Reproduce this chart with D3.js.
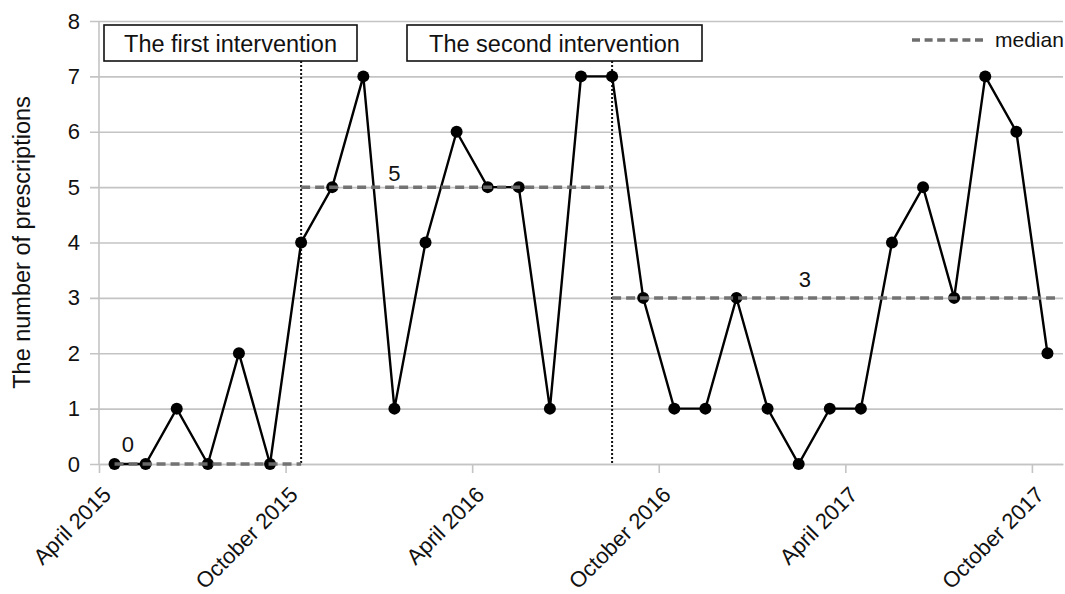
<!DOCTYPE html>
<html>
<head>
<meta charset="utf-8">
<script src="https://cdn.jsdelivr.net/npm/d3@7"></script>
<style>
  html, body { margin: 0; padding: 0; background: #fff; }
  svg { display: block; font-family: "Liberation Sans", Arial, sans-serif; }
</style>
</head>
<body>
<svg id="chart" width="1065" height="594"></svg>
<script>
// ---- data ----
const months = [
  "April 2015","May 2015","June 2015","July 2015","August 2015","September 2015",
  "October 2015","November 2015","December 2015","January 2016","February 2016","March 2016",
  "April 2016","May 2016","June 2016","July 2016","August 2016","September 2016",
  "October 2016","November 2016","December 2016","January 2017","February 2017","March 2017",
  "April 2017","May 2017","June 2017","July 2017","August 2017","September 2017",
  "October 2017"
];
const prescriptions = [0,0,1,0,2,0,4,5,7,1,4,6,5,5,1,7,7,3,1,1,3,1,0,1,1,4,5,3,7,6,2];
const medianValues = [0, 5, 3];
const medianStart = [0, 6, 16];   // month index where each phase median starts
const medianEnd   = [6, 16, 30];  // month index where each phase median ends
const interventionIndex = [6, 16];
const interventionLabels = ["The first intervention", "The second intervention"];
const yTicks = [0,1,2,3,4,5,6,7,8];
const xTickIndex = [0, 6, 12, 18, 24, 30];
const yTitle = "The number of prescriptions";
const legendLabel = "median";

// ---- layout ----
const svg = d3.select("#chart");
const pLeft = 99, pRight = 1063, pTop = 21, pBottom = 464;
const x = d3.scaleLinear().domain([0, months.length]).range([pLeft, pRight]);
const y = d3.scaleLinear().domain([0, 8]).range([pBottom, pTop]);
const cx = i => x(i + 0.5);
const gridColor = "#c4c4c4";
const medColor = "#6e6e6e";
const FONT = "Liberation Sans, Arial, sans-serif";

// gridlines + y labels
const gy = svg.append("g").attr("transform", `translate(90,0)`)
  .call(d3.axisLeft(y).tickValues(yTicks).tickSize(-(pRight - 90)).tickPadding(10).tickFormat(d3.format("d")));
gy.select(".domain").remove();
gy.selectAll(".tick line").attr("stroke", gridColor).attr("stroke-width", 1.6);
gy.selectAll(".tick text").attr("font-size", 22).attr("fill", "#111").attr("font-family", FONT);

// y axis line
svg.append("line").attr("x1", pLeft).attr("x2", pLeft).attr("y1", pTop).attr("y2", pBottom)
  .attr("stroke", gridColor).attr("stroke-width", 1.6);

// x axis
const gx = svg.append("g").attr("transform", `translate(0,${pBottom})`)
  .call(d3.axisBottom(x).tickValues(xTickIndex).tickSize(9).tickSizeOuter(0).tickFormat(() => ""));
gx.select(".domain").attr("stroke", gridColor).attr("stroke-width", 1.6);
gx.selectAll(".tick line").attr("stroke", gridColor).attr("stroke-width", 1.6);
gx.selectAll(".tick").append("text")
  .attr("fill", "#111")
  .attr("font-size", 22)
  .attr("font-family", FONT)
  .attr("text-anchor", "end")
  .attr("transform", "translate(13,32) rotate(-45)")
  .text(d => months[d]);

// y title
svg.append("text")
  .attr("transform", `translate(30,${(pTop + pBottom) / 2}) rotate(-90)`)
  .attr("text-anchor", "middle")
  .attr("font-size", 23.5)
  .attr("fill", "#111")
  .text(yTitle);

// intervention boxes
const boxes = [[104, 357], [407, 702]];
interventionLabels.forEach((lab, k) => {
  svg.append("rect").attr("x", boxes[k][0]).attr("y", 25)
    .attr("width", boxes[k][1] - boxes[k][0]).attr("height", 36)
    .attr("fill", "#fff").attr("stroke", "#111").attr("stroke-width", 1.6);
  svg.append("text").attr("x", (boxes[k][0] + boxes[k][1]) / 2).attr("y", 51.5)
    .attr("text-anchor", "middle").attr("font-size", 23.5).attr("fill", "#111").text(lab);
});

// intervention dotted lines
interventionIndex.forEach(i => {
  svg.append("line").attr("x1", cx(i)).attr("x2", cx(i)).attr("y1", 61).attr("y2", pBottom)
    .attr("stroke", "#111").attr("stroke-width", 2).attr("stroke-dasharray", "2,2");
});

// data line
svg.append("path").datum(prescriptions)
  .attr("fill", "none").attr("stroke", "#000").attr("stroke-width", 2.4)
  .attr("d", d3.line().x((d, i) => cx(i)).y(d => y(d)));

svg.append("g").selectAll("circle").data(prescriptions).join("circle")
  .attr("cx", (d, i) => cx(i)).attr("cy", d => y(d)).attr("r", 6).attr("fill", "#000");

// medians
medianValues.forEach((m, k) => {
  const x1 = cx(medianStart[k]);
  const x2 = k === medianValues.length - 1 ? pRight - 8 : cx(medianEnd[k]);
  svg.append("line").attr("x1", x1).attr("x2", x2).attr("y1", y(m)).attr("y2", y(m))
    .attr("stroke", medColor).attr("stroke-width", 3.5).attr("stroke-dasharray", "9,5")
    .attr("opacity", 0.95);
});
// median labels
const medLabelPos = [[0.43, 12], [9.0, 6], [22.2, 11]];
medianValues.forEach((m, k) => {
  svg.append("text").attr("x", cx(medLabelPos[k][0])).attr("y", y(m) - medLabelPos[k][1])
    .attr("text-anchor", "middle").attr("font-size", 22).attr("fill", "#111").text(m);
});

// legend
svg.append("line").attr("x1", 912).attr("x2", 987).attr("y1", 40).attr("y2", 40)
  .attr("stroke", medColor).attr("stroke-width", 3.5).attr("stroke-dasharray", "8,4.6");
svg.append("text").attr("x", 995).attr("y", 47).attr("font-size", 21).attr("fill", "#111").text(legendLabel);
</script>
</body>
</html>
